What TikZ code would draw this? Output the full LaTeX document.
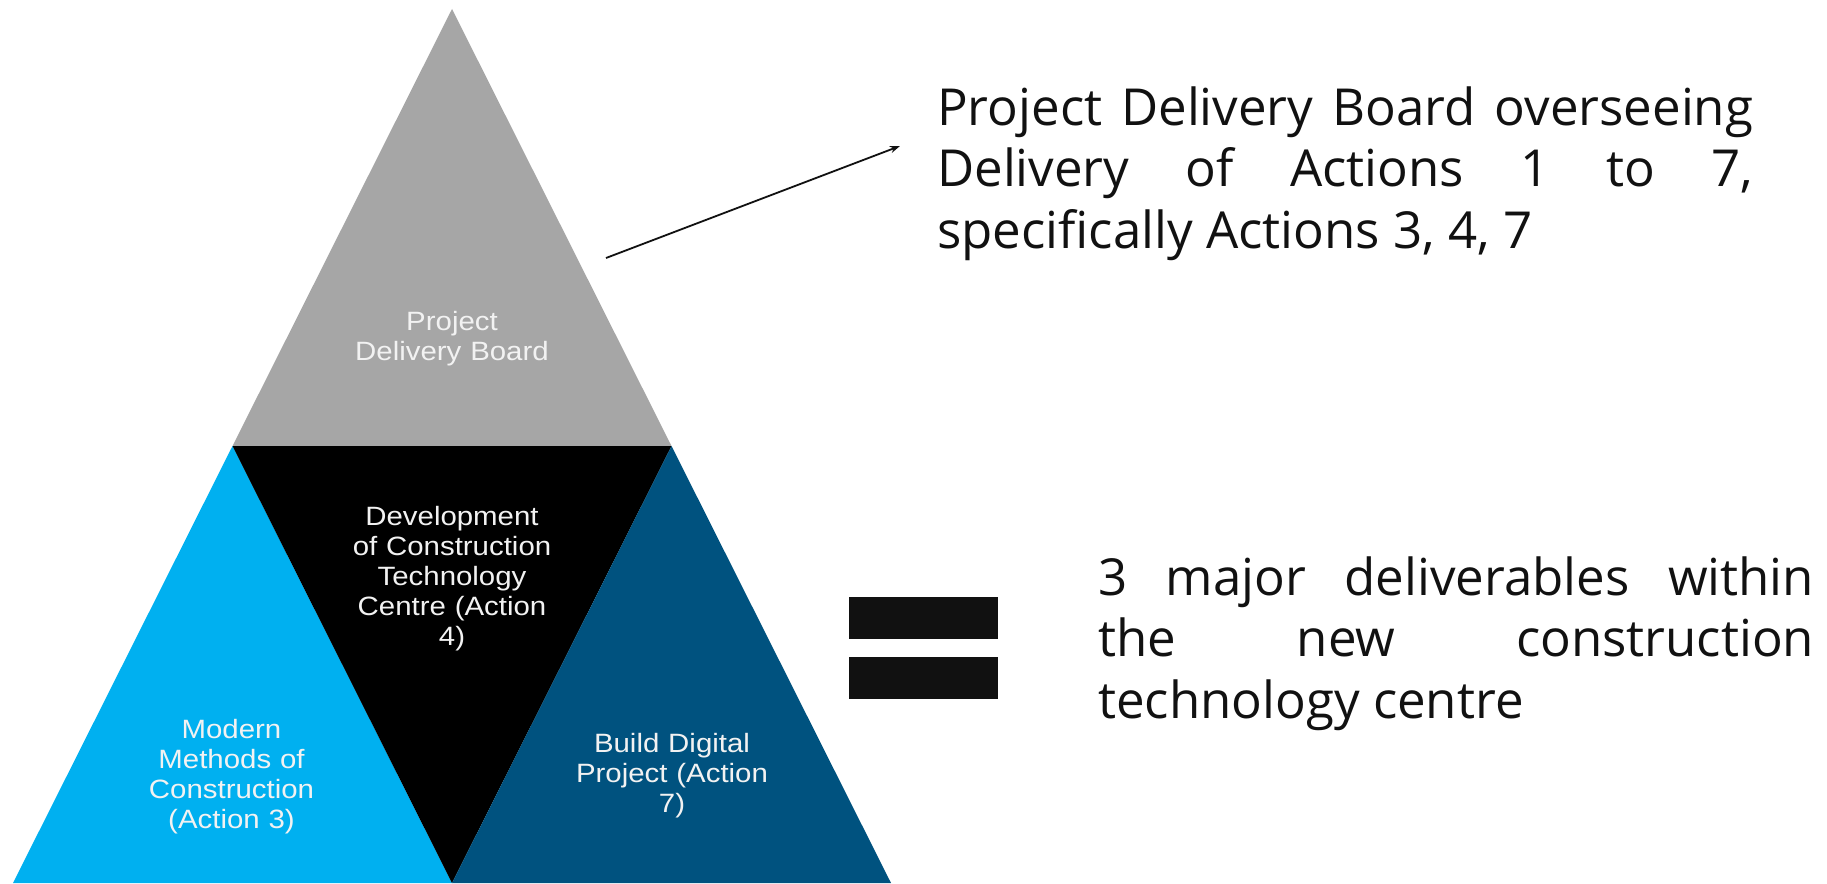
\documentclass[tikz,border=0pt]{standalone}
\usepackage{fontspec}
\newfontfamily\labfont[FakeStretch=1.11]{Liberation Sans}
\newfontfamily\txtfont{Open Sans}
\usetikzlibrary{arrows.meta}
\definecolor{pgray}{HTML}{A6A6A6}
\definecolor{lblue}{HTML}{00B0F0}
\definecolor{dblue}{HTML}{00527F}
\definecolor{labtext}{HTML}{F2F2F2}
\definecolor{ink}{HTML}{111111}
\tikzset{
  lab/.style={anchor=base, text width=320pt, align=center, inner sep=0pt,
    text=labtext, font=\labfont\fontsize{26.5}{30}\selectfont},
  desc/.style={anchor=base west, align=justify, inner sep=0pt,
    text=ink, font=\txtfont\fontsize{51}{61.5}\selectfont},
  eqbar/.style={fill=ink, minimum width=149pt, minimum height=42pt, inner sep=0pt},
  pointer/.style={draw=ink, line width=1.8pt, -{Stealth[length=10pt,width=7pt]}}
}
\begin{document}
\begin{tikzpicture}[x=1pt,y=-1pt]
\fill[white] (0,0) rectangle (1827,883);
\useasboundingbox (0,0) rectangle (1827,883);
% pyramid corners
\coordinate (A) at (452,9);
\coordinate (L) at (232.5,446);
\coordinate (R) at (671.5,446);
\coordinate (BL) at (13,883);
\coordinate (BM) at (452,883);
\coordinate (BR) at (891,883);
\fill[pgray] (A) -- (L) -- (R) -- cycle;
\fill[lblue] (L) -- (BL) -- (BM) -- cycle;
\fill[black] (L) -- (R) -- (BM) -- cycle;
\fill[dblue] (R) -- (BM) -- (BR) -- cycle;
% labels
\node[lab] (pdb) at (452,330) {Project\\Delivery Board};
\node[lab] (dev) at (452,525) {Development\\of Construction\\Technology\\Centre (Action\\4)};
\node[lab] (mmc) at (231.5,738) {Modern\\Methods of\\Construction\\(Action 3)};
\node[lab] (bdp) at (672,752) {Build Digital\\Project (Action\\7)};
% descriptions
\node[desc, text width=816pt] (top) at (937,125)
  {Project Delivery Board overseeing\linebreak Delivery of Actions 1 to 7,\linebreak specifically Actions 3, 4, 7};
\node[desc, text width=716pt] (bot) at (1098,595)
  {3 major deliverables within\linebreak the new construction\linebreak technology centre};
% arrow
\coordinate (as) at (606,258);
\coordinate (ae) at (900,146);
\draw[pointer] (as) -- (ae);
% equals sign
\node[eqbar] (eq1) at (923.5,618) {};
\node[eqbar] (eq2) at (923.5,678) {};
\end{tikzpicture}
\end{document}
